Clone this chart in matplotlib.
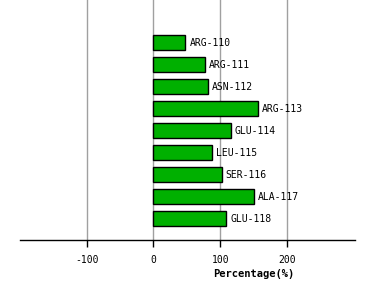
import matplotlib
matplotlib.use("Agg")
import matplotlib.pyplot as plt

residues = ["ARG-110", "ARG-111", "ASN-112", "ARG-113", "GLU-114",
            "LEU-115", "SER-116", "ALA-117", "GLU-118"]
percent = [48, 77, 81, 156, 116, 87, 102, 151, 109]
xticks = [-100, 0, 100, 200]

fig = plt.figure(figsize=(3.74, 3.0), dpi=100)
ax = fig.add_axes([20 / 374, 0.2, 335 / 374, 0.8])

ypos = list(range(len(residues)))
ax.barh(ypos, percent, height=0.68, color="#00b000", edgecolor="black",
        linewidth=1.0, zorder=3)
for y, v, name in zip(ypos, percent, residues):
    ax.text(v + 6, y, name, va="center", ha="left", fontsize=7,
            family="DejaVu Sans Mono", zorder=4)

ax.set_xlim(-200, 302)
ax.set_ylim(8.96, -1.95)
ax.set_xticks(xticks)
ax.set_xticklabels([str(t) for t in xticks], family="DejaVu Sans Mono",
                   fontsize=7)
ax.set_yticks([])
for t in xticks:
    ax.axvline(t, color="#a0a0a0", linewidth=1.0, zorder=1)

for s in ["top", "left", "right"]:
    ax.spines[s].set_visible(False)
ax.spines["bottom"].set_linewidth(1.0)
ax.tick_params(axis="x", direction="out", length=5, width=1.0, pad=6)

fig.text(254 / 374, 1 - 274 / 300, "Percentage(%)", ha="center", va="center",
         fontsize=7.5, fontweight="bold", family="DejaVu Sans Mono")

fig.savefig("out.png", dpi=100)
